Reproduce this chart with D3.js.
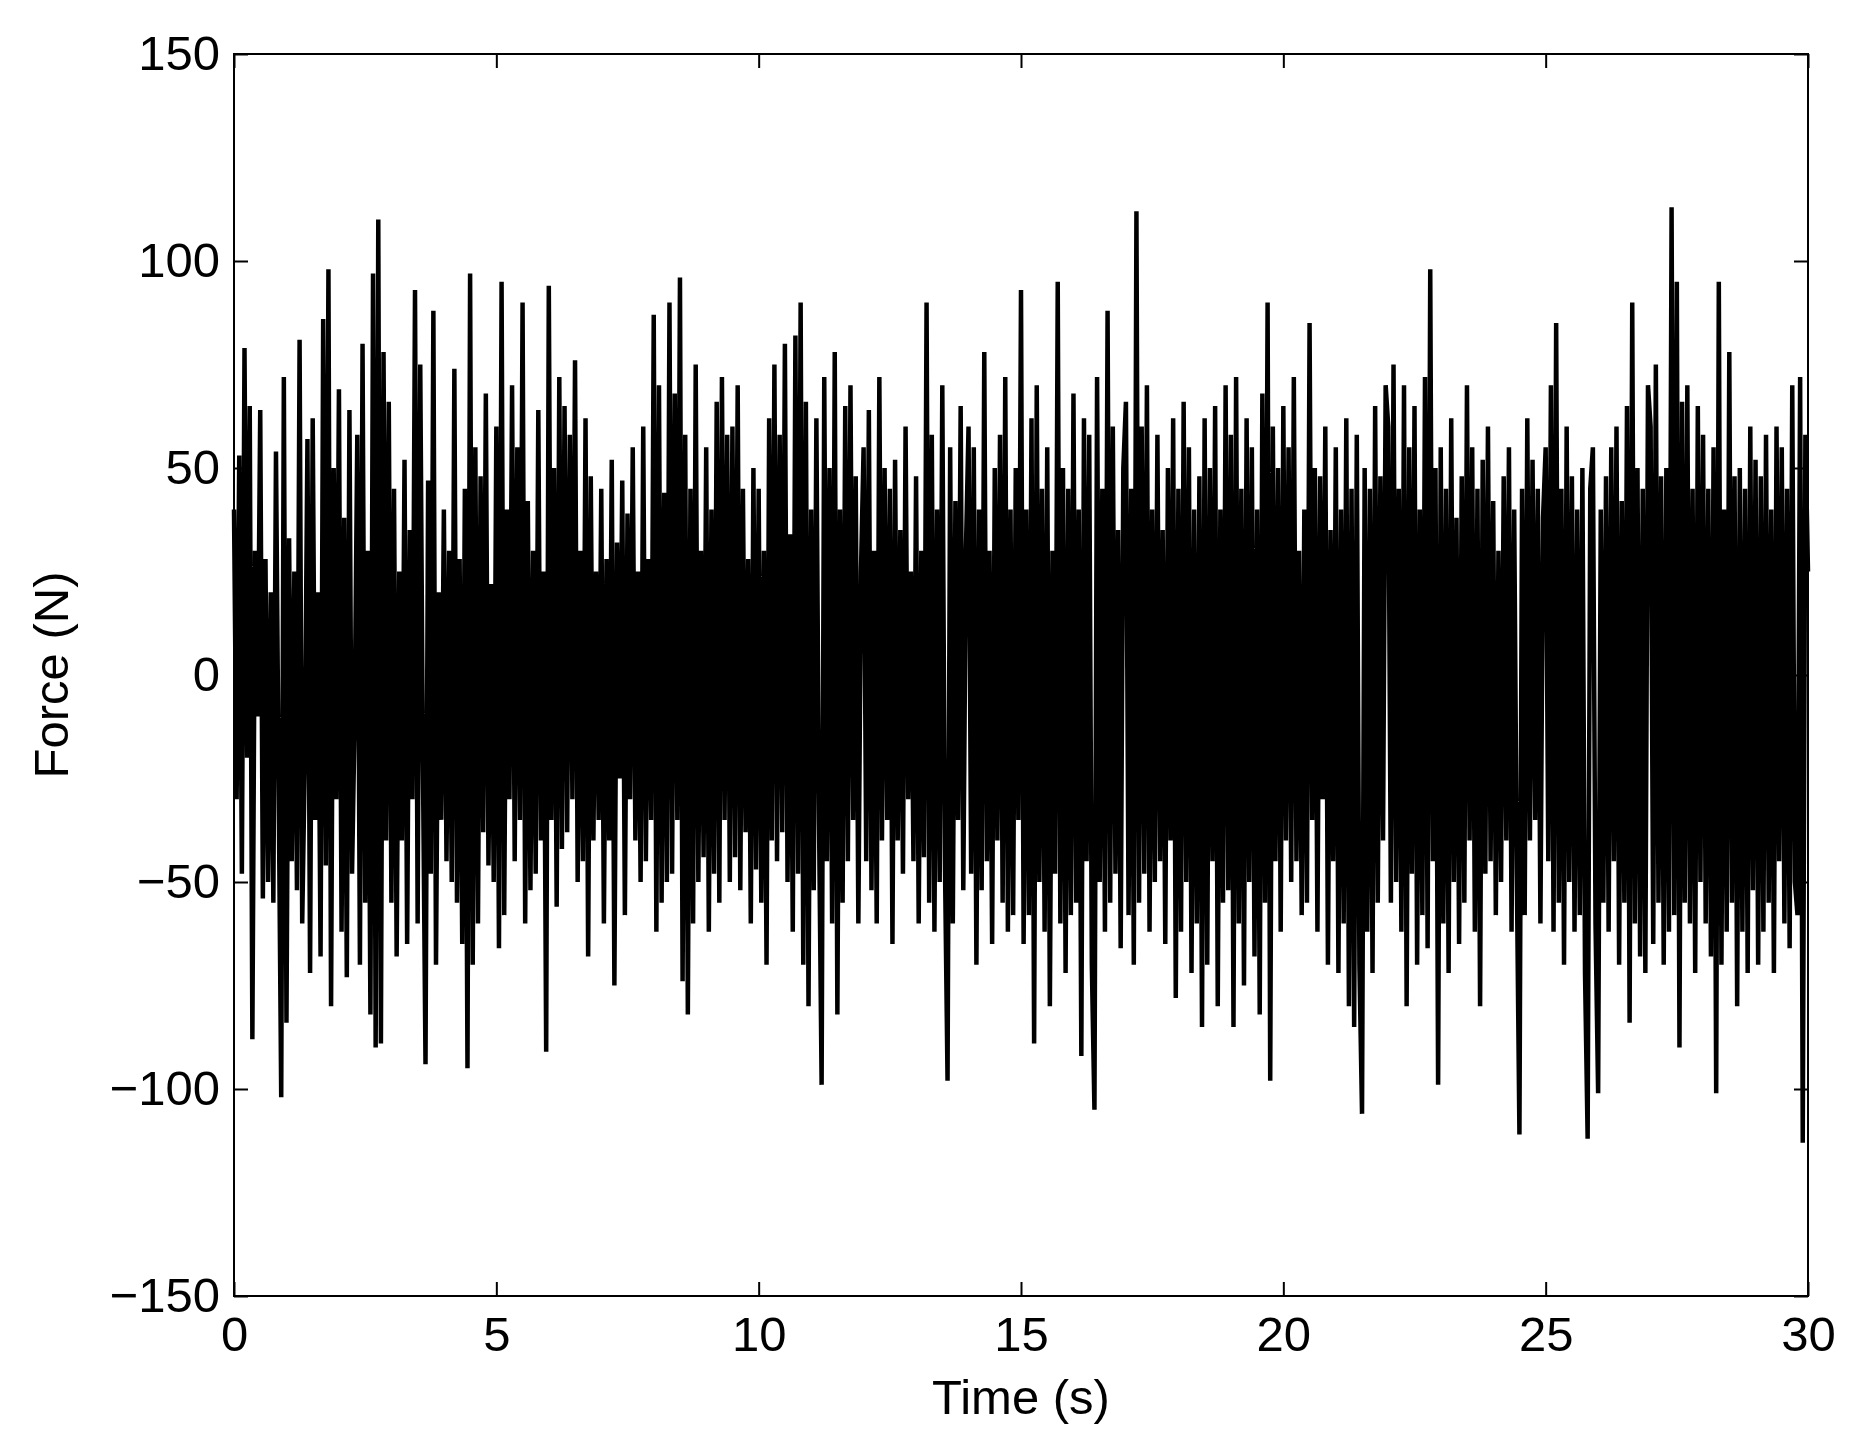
<!DOCTYPE html>
<html><head><meta charset="utf-8">
<script src="https://cdn.jsdelivr.net/npm/d3@7"></script>
<style>body{margin:0;background:#fff}svg{display:block}</style>
</head><body>
<script>
const dt = 0.05;
const force = [
40,-30,53,-48,79,-20,65,-88,30,-10,64,-54,28,-50,20,-55,54,-25,-102,72,
-84,33,-45,25,-52,81,-60,-20,57,-72,62,-35,20,-68,86,-46,98,-80,50,-30,
69,-62,38,-73,64,-48,-10,58,-70,80,-55,30,-82,97,-90,110,-89,78,-40,66,
-55,45,-68,25,-40,52,-65,35,-30,93,-60,75,-20,-94,47,-48,88,-70,20,-35,
40,-45,30,-50,74,-55,28,-65,45,-95,97,-70,55,-60,48,-38,68,-46,22,-50,
60,-66,95,-58,40,-30,70,-45,55,-35,90,-60,42,-52,30,-48,64,-40,25,-91,
94,-35,50,-56,72,-42,65,-38,58,-30,76,-50,30,-45,62,-68,48,-40,25,-35,
45,-60,28,-40,52,-75,32,-25,47,-58,39,-30,55,-40,25,-50,60,-45,28,-35,
87,-62,70,-55,44,-50,90,-48,68,-35,96,-74,58,-82,45,-60,75,-50,30,-44,
55,-62,40,-48,66,-55,72,-35,58,-50,60,-44,70,-52,45,-38,28,-60,50,-47,
45,-55,30,-70,62,-40,75,-45,58,-38,80,-50,34,-62,82,-48,90,-70,66,-80,
40,-52,62,-35,-99,72,-45,50,-60,78,-82,40,-55,65,-45,70,-35,48,-60,25,
55,-45,64,-52,30,-60,72,-40,50,-35,45,-65,52,-40,35,-48,60,-30,25,-45,
48,-60,30,-44,90,-55,58,-62,40,-50,70,-45,-98,55,-60,42,-35,65,-52,30,
60,-48,55,-70,40,-52,78,-45,30,-65,50,-40,58,-55,72,-62,40,-58,50,-35,
93,-65,40,-58,62,-89,70,-50,45,-62,55,-80,30,-48,95,-60,50,-72,45,-58,
68,-55,40,-92,62,-45,58,-70,-105,72,-50,45,-62,88,-55,60,-48,35,-66,50,
66,-58,45,-70,112,-55,60,-48,70,-62,40,-50,58,-45,35,-65,50,-40,62,-78,
45,-62,66,-50,55,-72,40,-60,48,-85,62,-70,50,-45,65,-80,40,-55,70,-52,
58,-85,72,-60,45,-75,62,-50,55,-68,40,-82,68,-55,90,-98,60,-45,50,-62,
65,-40,55,-50,72,-45,30,-58,40,-55,85,-35,50,-62,48,-30,60,-70,35,-45,
55,-72,40,-60,62,-80,45,-85,58,-70,-106,50,-62,45,-72,65,-55,48,-40,70,
60,-55,75,-50,45,-62,70,-80,55,-48,65,-70,40,-58,72,-66,98,-45,50,-99,
55,-60,45,-72,62,-50,38,-65,48,-55,70,-40,55,-62,45,-80,52,-48,60,-45,
42,-58,30,-50,48,-40,55,-62,40,-48,-111,45,-58,62,-40,52,-35,45,-60,38,
55,-45,70,-62,85,-55,45,-70,60,-50,48,-62,40,-58,50,-72,-112,45,55,-60,
-101,40,-55,48,-62,55,-45,60,-70,42,-55,65,-84,90,-60,50,-68,45,-72,70,
60,-65,75,-55,48,-70,50,-62,113,-58,95,-90,66,-55,70,-60,45,-72,65,-50,
58,-60,45,-68,55,-101,95,-70,40,-62,78,-55,48,-80,50,-62,45,-72,60,-52,
52,-70,48,-62,58,-55,40,-72,60,-45,55,-60,45,-66,70,-50,-58,72,-113,58,
25];
const xTicks = [0,5,10,15,20,25,30];
const yTicks = [-150,-100,-50,0,50,100,150];
const xLabel = "Time (s)", yLabel = "Force (N)";

const W=1864,H=1456, L=234,R=1808,T=54,B=1296;
const svg=d3.select("body").append("svg").attr("width",W).attr("height",H);
const x=d3.scaleLinear().domain([0,30]).range([L,R]);
const y=d3.scaleLinear().domain([-150,150]).range([B,T]);
const font="Liberation Sans, Arial, Helvetica, sans-serif";
const fmt=d=>String(d).replace("-","\u2212");

svg.append("path").datum(force)
  .attr("d",d3.line().x((d,i)=>x(i*dt)).y(d=>y(d)))
  .attr("fill","none").attr("stroke","#000").attr("stroke-width",4.5).attr("stroke-linejoin","miter");

svg.append("rect").attr("x",L).attr("y",T).attr("width",R-L).attr("height",B-T)
  .attr("fill","none").attr("stroke","#000").attr("stroke-width",2);

const tl=14;
const ax=[
 svg.append("g").attr("transform",`translate(0,${B})`).call(d3.axisBottom(x).tickValues(xTicks).tickSize(-tl).tickPadding(20).tickFormat(fmt)),
 svg.append("g").attr("transform",`translate(0,${T})`).call(d3.axisTop(x).tickValues(xTicks).tickSize(-tl).tickFormat("")),
 svg.append("g").attr("transform",`translate(${L},0)`).call(d3.axisLeft(y).tickValues(yTicks).tickSize(-tl).tickPadding(14).tickFormat(fmt)),
 svg.append("g").attr("transform",`translate(${R},0)`).call(d3.axisRight(y).tickValues(yTicks).tickSize(-tl).tickFormat(""))
];
ax.forEach(g=>{g.select(".domain").remove();g.selectAll("line").attr("stroke","#000").attr("stroke-width",2);
 g.selectAll("text").attr("font-family",font).attr("font-size",49).attr("fill","#000");});

svg.append("text").attr("x",(L+R)/2).attr("y",1414).attr("text-anchor","middle")
 .attr("font-family",font).attr("font-size",49).text(xLabel);
svg.append("text").attr("transform",`translate(68,${(T+B)/2}) rotate(-90)`).attr("text-anchor","middle")
 .attr("font-family",font).attr("font-size",49).text(yLabel);
</script>
</body></html>
